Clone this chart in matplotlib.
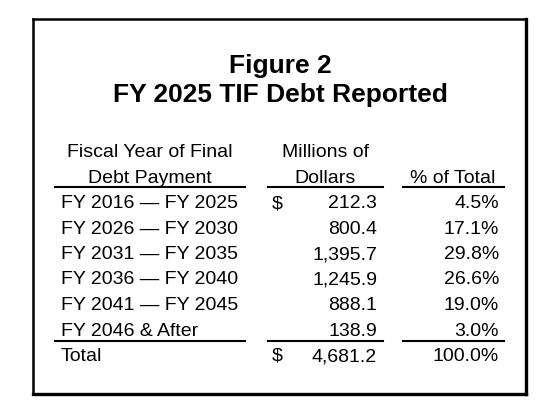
import matplotlib.pyplot as plt

plt.rcParams["font.family"] = ["Liberation Sans", "DejaVu Sans"]

title_lines = ["Figure 2", "FY 2025 TIF Debt Reported"]
header_1 = ["Fiscal Year of Final", "Debt Payment"]
header_2 = ["Millions of", "Dollars"]
header_3 = ["% of Total"]
periods = ["FY 2016 \u2014 FY 2025", "FY 2026 \u2014 FY 2030", "FY 2031 \u2014 FY 2035",
           "FY 2036 \u2014 FY 2040", "FY 2041 \u2014 FY 2045", "FY 2046 & After"]
amounts = [212.3, 800.4, 1395.7, 1245.9, 888.1, 138.9]
shares = [4.5, 17.1, 29.8, 26.6, 19.0, 3.0]
total_label = "Total"
total_amount = 4681.2
total_share = 100.0

W, H = 553, 408
fig = plt.figure(figsize=(W / 100, H / 100), dpi=100)
ax = fig.add_axes([0, 0, 1, 1])
ax.set_xlim(0, W)
ax.set_ylim(H, 0)
ax.axis("off")

# frame (right/bottom edges a bit heavier)
ax.plot([33, 33], [19, 394], color="black", lw=1.8, solid_capstyle="projecting")
ax.plot([33, 526], [19, 19], color="black", lw=1.8, solid_capstyle="projecting")
ax.plot([526, 526], [19, 394], color="black", lw=2.4, solid_capstyle="projecting")
ax.plot([33, 526], [394, 394], color="black", lw=2.4, solid_capstyle="projecting")

# title
for y, line in zip([73, 102], title_lines):
    ax.text(280, y, line, ha="center", va="baseline", fontsize=19, fontweight="bold")

# column positions
c1_left, c1_mid = 61, 150
c2_dollar, c2_right, c2_mid = 272, 377, 325
c3_right, c3_mid = 499, 453
fs = 14

for y, txt in zip([157, 183], header_1):
    ax.text(c1_mid, y, txt, ha="center", va="baseline", fontsize=fs)
for y, txt in zip([157, 183], header_2):
    ax.text(c2_mid, y, txt, ha="center", va="baseline", fontsize=fs)
ax.text(c3_mid, 183, header_3[0], ha="center", va="baseline", fontsize=fs)

# rules
for y in [187, 341]:
    ax.plot([55, 245], [y, y], color="black", lw=1.5)
    ax.plot([268, 383], [y, y], color="black", lw=1.5)
    ax.plot([403, 504], [y, y], color="black", lw=1.5)

row_y0, row_step = 208, 25.5
for i, (p, a, s) in enumerate(zip(periods, amounts, shares)):
    y = row_y0 + i * row_step
    ax.text(c1_left, y, p, ha="left", va="baseline", fontsize=fs)
    if i == 0:
        ax.text(c2_dollar, y, "$", ha="left", va="baseline", fontsize=fs)
    ax.text(c2_right, y, f"{a:,.1f}", ha="right", va="baseline", fontsize=fs)
    ax.text(c3_right, y, f"{s:.1f}%", ha="right", va="baseline", fontsize=fs)

ty = 361
ax.text(c1_left, ty, total_label, ha="left", va="baseline", fontsize=fs)
ax.text(c2_dollar, ty, "$", ha="left", va="baseline", fontsize=fs)
ax.text(c2_right, ty, f"{total_amount:,.1f}", ha="right", va="baseline", fontsize=fs)
ax.text(c3_right, ty, f"{total_share:.1f}%", ha="right", va="baseline", fontsize=fs)

fig.savefig("out.png", dpi=100)
